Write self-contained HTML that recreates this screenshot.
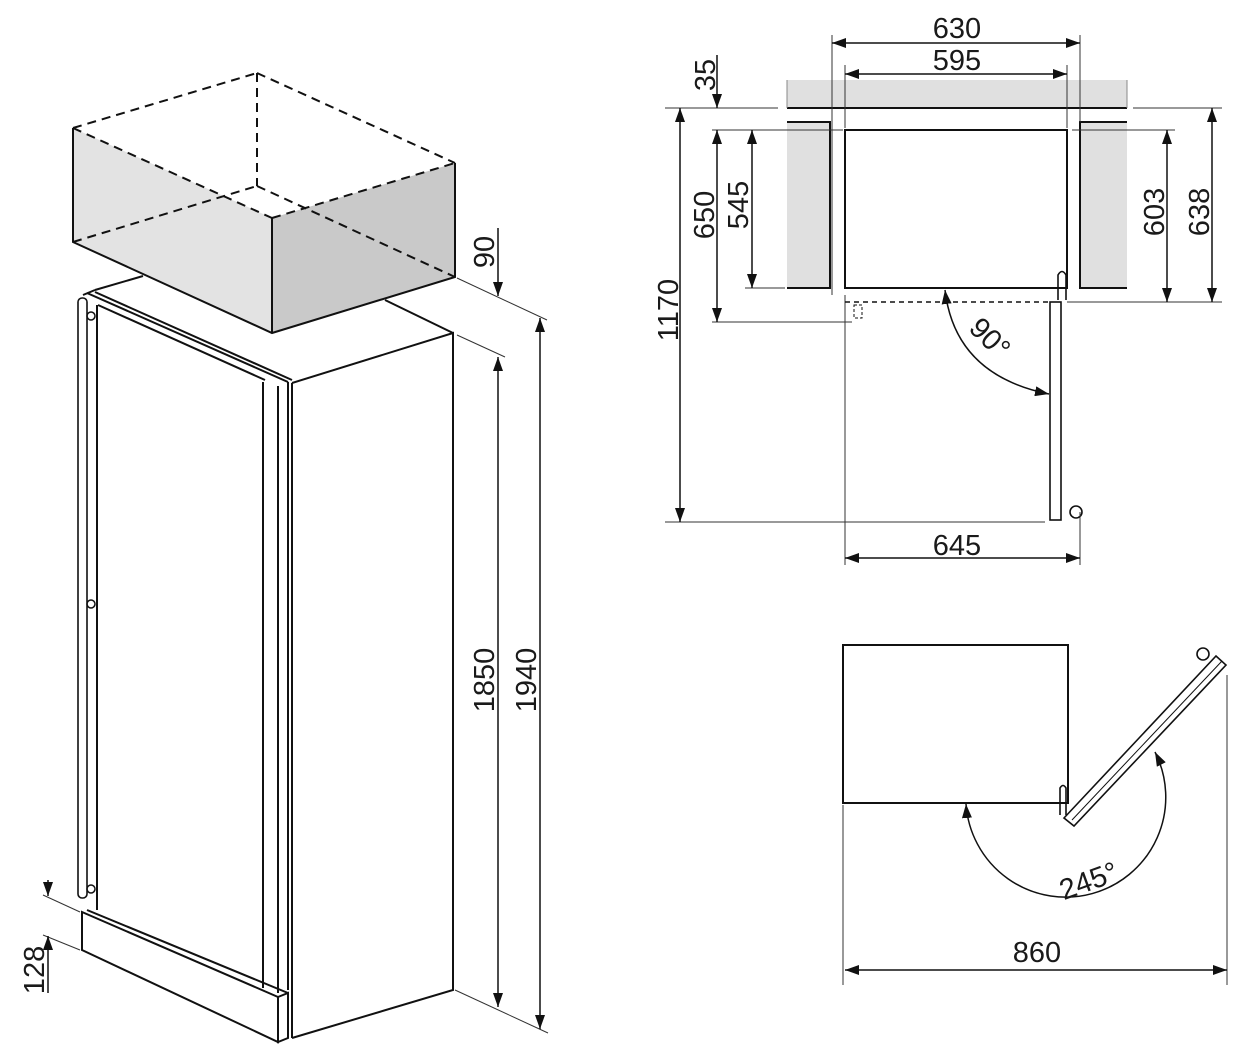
<!DOCTYPE html>
<html><head><meta charset="utf-8"><style>
html,body{margin:0;padding:0;background:#fff;}
svg{display:block;}
text{font-family:"Liberation Sans",Arial,sans-serif;font-size:29px;fill:#1a1a1a;}
</style></head><body>
<svg width="1247" height="1060" viewBox="0 0 1247 1060" xmlns="http://www.w3.org/2000/svg">
<defs>
<marker id="a" viewBox="0 0 14 10" refX="14" refY="5" markerWidth="14" markerHeight="10" markerUnits="userSpaceOnUse" orient="auto-start-reverse">
<path d="M0,0 L14,5 L0,10 z" fill="#111"/></marker>
</defs>
<g stroke="#111" fill="none" stroke-width="2">
<polygon points="73,128 272,218 272,333 73,242" fill="#e3e3e3" stroke="none"/>
<polygon points="272,218 455,163 455,277 272,333" fill="#c9c9c9" stroke="none"/>
<g stroke-dasharray="9,6">
<line x1="73" y1="128" x2="257" y2="73"/><line x1="257" y1="73" x2="455" y2="163"/>
<line x1="257" y1="73" x2="257" y2="186"/><line x1="73" y1="242" x2="257" y2="186"/>
<line x1="257" y1="186" x2="455" y2="277"/><line x1="73" y1="128" x2="272" y2="218"/>
<line x1="272" y1="218" x2="455" y2="163"/>
</g>
<polyline points="73,128 73,242 272,333 455,277 455,163"/>
<line x1="272" y1="218" x2="272" y2="333"/>
<line x1="95" y1="290" x2="143" y2="276"/>
<line x1="385" y1="300" x2="453" y2="333"/>
<polyline points="292,383 453,333 453,990 292,1038"/>
<line x1="83" y1="295" x2="95" y2="290"/>
<line x1="87" y1="293" x2="288" y2="382"/>
<line x1="95" y1="292" x2="292" y2="380"/>
<line x1="98" y1="305" x2="265" y2="380"/>
<rect x="78" y="298" width="9" height="600" rx="4" stroke-width="1.6"/>
<line x1="97" y1="305" x2="97" y2="910"/>
<line x1="263" y1="382" x2="263" y2="988"/>
<line x1="278" y1="386" x2="278" y2="993"/>
<line x1="288" y1="382" x2="288" y2="990"/>
<line x1="292" y1="383" x2="292" y2="1038"/>
<circle cx="91" cy="316" r="4" stroke-width="1.5"/>
<circle cx="91" cy="604" r="4" stroke-width="1.5"/>
<circle cx="91" cy="889" r="4" stroke-width="1.5"/>
<polygon points="82,912 278,997 278,1042 82,950" fill="#fff"/>
<polygon points="278,997 288,993 288,1038 278,1042" fill="#fff"/>
<line x1="87" y1="910" x2="288" y2="993"/>
</g>
<g stroke="#333" stroke-width="1" fill="none">
<line x1="457" y1="278" x2="547" y2="320"/>
<line x1="457" y1="335" x2="505" y2="357"/>
<line x1="455" y1="990" x2="548" y2="1033"/>
<line x1="43" y1="895" x2="80" y2="912"/>
<line x1="43" y1="935" x2="80" y2="950"/>
</g>
<g stroke="#111" stroke-width="1.5" fill="none">
<line x1="498" y1="228" x2="498" y2="296" marker-end="url(#a)"/>
<line x1="498" y1="357" x2="498" y2="1007" marker-start="url(#a)" marker-end="url(#a)"/>
<line x1="540" y1="318" x2="540" y2="1029" marker-start="url(#a)" marker-end="url(#a)"/>
<line x1="48" y1="880" x2="48" y2="896" marker-end="url(#a)"/>
<line x1="48" y1="993" x2="48" y2="936" marker-end="url(#a)"/>
</g>
<text transform="translate(494,252) rotate(-90)" text-anchor="middle">90</text>
<text transform="translate(494,680) rotate(-90)" text-anchor="middle">1850</text>
<text transform="translate(536,680) rotate(-90)" text-anchor="middle">1940</text>
<text transform="translate(44,970) rotate(-90)" text-anchor="middle">128</text>

<rect x="787" y="80" width="340" height="28" fill="#e0e0e0"/>
<rect x="787" y="122" width="43" height="166" fill="#e0e0e0"/>
<rect x="1080" y="122" width="47" height="166" fill="#e0e0e0"/>
<g stroke="#111" stroke-width="2" fill="none">
<line x1="787" y1="108" x2="1127" y2="108"/>
<line x1="787" y1="80" x2="787" y2="108" stroke="#888" stroke-width="1"/>
<line x1="1127" y1="80" x2="1127" y2="108" stroke="#888" stroke-width="1"/>
<polyline points="787,122 830,122 830,288 787,288"/>
<polyline points="1127,122 1080,122 1080,288 1127,288"/>
<rect x="845" y="130" width="222" height="158"/>
<rect x="1050" y="302" width="11" height="218" stroke-width="1.6"/>
<path d="M1058,300 L1058,275 Q1062,268 1066,275 L1066,300" stroke-width="1.6"/>
<circle cx="1076" cy="512" r="6" stroke-width="1.6"/>
</g>
<g stroke="#333" stroke-width="1" fill="none">
<line x1="832" y1="35" x2="832" y2="295"/>
<line x1="1080" y1="35" x2="1080" y2="122"/>
<line x1="845" y1="65" x2="845" y2="128"/>
<line x1="1067" y1="65" x2="1067" y2="128"/>
<line x1="665" y1="108" x2="778" y2="108"/>
<line x1="1133" y1="108" x2="1222" y2="108"/>
<line x1="712" y1="130" x2="843" y2="130"/>
<line x1="1072" y1="130" x2="1175" y2="130"/>
<line x1="745" y1="288" x2="785" y2="288"/>
<line x1="712" y1="322" x2="852" y2="322"/>
<line x1="1067" y1="302" x2="1222" y2="302"/>
<line x1="665" y1="522" x2="1045" y2="522"/>
<line x1="845" y1="295" x2="845" y2="565"/>
<line x1="1080" y1="512" x2="1080" y2="565"/>
<line x1="843" y1="805" x2="843" y2="985"/>
<line x1="1227" y1="675" x2="1227" y2="985"/>
</g>
<g stroke="#111" stroke-width="1.5" fill="none">
<line x1="845" y1="302" x2="1050" y2="302" stroke-dasharray="5,4"/>
<rect x="854" y="305" width="8" height="13" stroke-dasharray="3,2" stroke-width="1"/>
<line x1="832" y1="43" x2="1080" y2="43" marker-start="url(#a)" marker-end="url(#a)"/>
<line x1="845" y1="74" x2="1067" y2="74" marker-start="url(#a)" marker-end="url(#a)"/>
<line x1="717" y1="55" x2="717" y2="108" marker-end="url(#a)"/>
<line x1="717" y1="130" x2="717" y2="322" marker-start="url(#a)" marker-end="url(#a)"/>
<line x1="680" y1="108" x2="680" y2="522" marker-start="url(#a)" marker-end="url(#a)"/>
<line x1="752" y1="130" x2="752" y2="288" marker-start="url(#a)" marker-end="url(#a)"/>
<line x1="1167" y1="130" x2="1167" y2="302" marker-start="url(#a)" marker-end="url(#a)"/>
<line x1="1212" y1="108" x2="1212" y2="302" marker-start="url(#a)" marker-end="url(#a)"/>
<line x1="845" y1="558" x2="1080" y2="558" marker-start="url(#a)" marker-end="url(#a)"/>
<path d="M945,290 Q955,375 1049,394" marker-start="url(#a)" marker-end="url(#a)"/>
</g>
<text x="957" y="38" text-anchor="middle">630</text>
<text x="957" y="70" text-anchor="middle">595</text>
<text x="957" y="555" text-anchor="middle">645</text>
<text transform="translate(715,75) rotate(-90)" text-anchor="middle">35</text>
<text transform="translate(678,310) rotate(-90)" text-anchor="middle">1170</text>
<text transform="translate(714,215) rotate(-90)" text-anchor="middle">650</text>
<text transform="translate(748,205) rotate(-90)" text-anchor="middle">545</text>
<text transform="translate(1164,212) rotate(-90)" text-anchor="middle">603</text>
<text transform="translate(1209,212) rotate(-90)" text-anchor="middle">638</text>
<text transform="translate(983,345) rotate(45)" text-anchor="middle">90°</text>

<g stroke="#111" stroke-width="2" fill="none">
<rect x="843" y="645" width="225" height="158"/>
<path d="M1060,815 L1060,788 Q1063,783 1066,788 L1066,815" stroke-width="1.6"/>
<polygon points="1064,818 1216,656 1226,665 1074,826" stroke-width="1.6" fill="#fff"/>
<line x1="1072" y1="820" x2="1222" y2="661" stroke-width="1"/>
<circle cx="1203" cy="654" r="6" stroke-width="1.6"/>
</g>
<g stroke="#111" stroke-width="1.5" fill="none">
<path d="M966,804 A100,100 0 1 0 1155,752" marker-start="url(#a)" marker-end="url(#a)"/>
<line x1="845" y1="970" x2="1227" y2="970" marker-start="url(#a)" marker-end="url(#a)"/>
</g>
<text transform="translate(1092,890) rotate(-20)" text-anchor="middle">245°</text>
<text x="1037" y="962" text-anchor="middle">860</text>
</svg>
</body></html>
